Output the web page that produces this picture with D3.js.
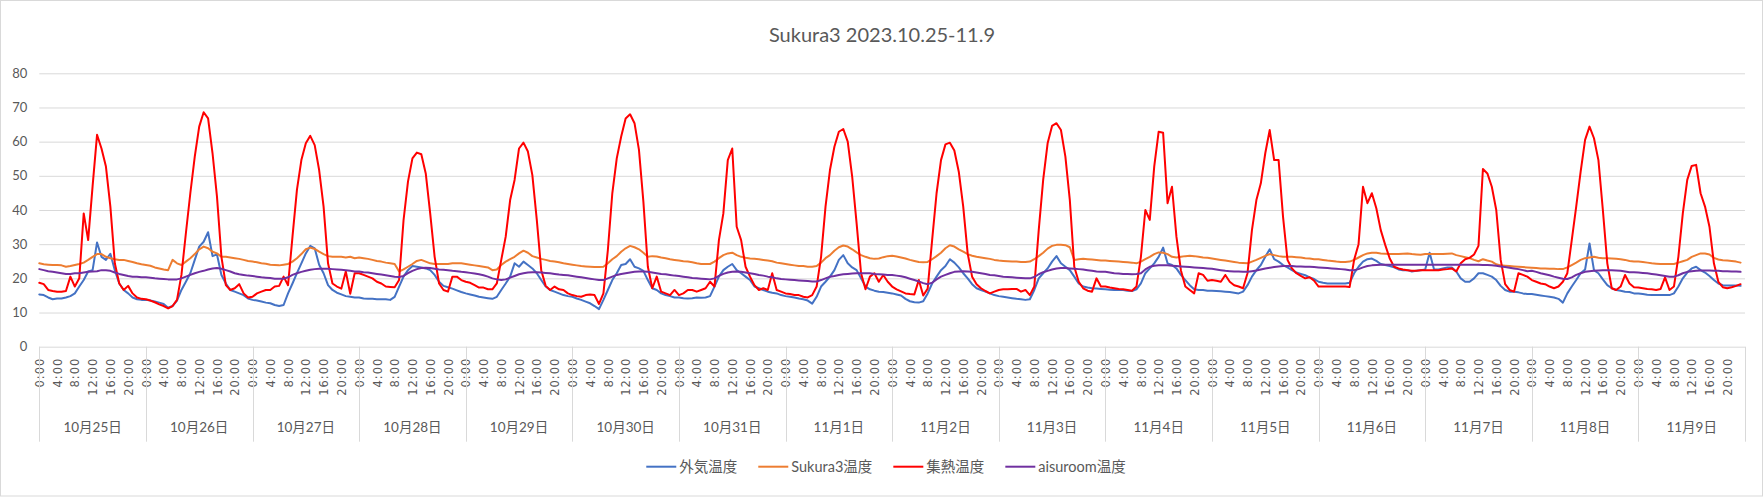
<!DOCTYPE html>
<html><head><meta charset="utf-8">
<script src="https://cdn.jsdelivr.net/npm/d3@7"></script>
<style>
html,body{margin:0;padding:0;background:#fff;}
svg{display:block;}
</style></head><body>
<svg id="chart" width="1764" height="498"></svg>
<script>
const chartTitle = "Sukura3 2023.10.25-11.9";
const dayLabels = ["10月25日","10月26日","10月27日","10月28日","10月29日","10月30日","10月31日","11月1日","11月2日","11月3日","11月4日","11月5日","11月6日","11月7日","11月8日","11月9日"];
const hourLabels = ["0:00","4:00","8:00","12:00","16:00","20:00"];
const yTicks = [0,10,20,30,40,50,60,70,80];
const seriesNames = ["外気温度","Sukura3温度","集熱温度","aisuroom温度"];

// hourly values, one row per day (0:00 .. 23:00)
const outdoor = [
15.3,15.1,14.4,13.9,14.1,14.1,14.4,14.8,15.6,17.6,19.5,22.0,22.4,30.5,26.3,25.4,27.2,22.4,18.5,16.6,15.6,14.4,13.9,13.7,
13.7,13.5,13.2,12.9,12.5,11.4,11.9,13.5,16.6,19.0,21.5,25.4,29.3,30.7,33.5,26.5,27.0,21.0,18.5,16.6,16.1,15.6,15.1,14.1,
13.7,13.5,13.2,12.9,12.7,12.2,11.9,12.2,15.6,18.5,21.5,24.4,27.3,29.5,28.8,24.0,21.5,18.0,16.6,15.8,15.3,14.8,14.6,14.4,
14.4,14.1,14.0,14.0,13.9,13.9,13.9,13.7,14.6,17.6,20.5,22.4,23.6,23.4,23.2,22.9,22.4,21.0,19.0,17.8,17.4,17.0,16.5,16.0,
15.6,15.3,15.0,14.6,14.4,14.2,14.0,14.6,16.6,18.5,20.5,24.4,23.4,24.9,23.9,22.9,21.5,19.5,17.6,16.6,16.1,15.6,15.1,14.8,
14.6,14.1,13.7,13.2,12.7,11.9,11.0,13.7,16.6,19.5,21.5,23.9,24.2,25.6,23.4,22.9,22.2,19.5,17.1,16.6,15.6,15.1,14.8,14.4,
14.4,14.2,14.1,14.2,14.4,14.3,14.4,14.8,17.6,20.5,22.4,23.4,24.2,22.4,21.5,20.5,19.5,17.6,17.1,16.6,16.1,15.8,15.6,15.1,
14.8,14.6,14.4,14.1,13.9,13.5,12.6,14.6,17.6,19.0,20.5,22.4,25.4,26.8,24.4,23.2,22.4,20.0,17.6,16.8,16.4,16.1,16.0,15.8,
15.6,15.3,15.0,14.0,13.3,13.0,12.9,13.3,15.6,18.5,20.5,22.4,23.6,25.6,24.6,23.2,21.5,20.0,18.3,17.1,16.6,16.1,15.6,15.1,
14.8,14.6,14.4,14.2,14.0,13.9,13.7,13.9,16.6,20.0,21.5,22.9,24.9,26.5,24.4,23.4,22.4,20.5,18.5,17.6,17.3,17.1,17.0,16.9,
16.8,16.7,16.6,16.6,16.6,16.4,16.3,16.8,18.5,21.5,22.9,24.4,26.3,29.0,24.4,23.9,22.9,21.0,19.5,18.0,16.8,16.6,16.6,16.4,
16.4,16.3,16.2,16.1,16.0,15.8,15.6,16.1,18.0,20.5,22.4,23.9,26.3,28.5,25.6,24.9,23.9,23.2,22.4,21.7,21.3,20.9,20.3,19.8,
19.0,18.7,18.5,18.5,18.5,18.5,18.5,18.7,21.5,23.4,24.9,25.6,25.8,25.1,24.2,23.9,23.6,23.2,22.6,22.4,22.4,22.0,22.2,22.4,
22.6,27.5,22.6,22.6,22.9,23.2,23.2,22.0,20.0,19.0,19.0,20.0,21.5,21.5,21.0,20.5,19.5,17.8,16.6,16.1,16.1,15.9,15.6,15.4,
15.4,15.2,15.0,14.8,14.6,14.4,14.0,12.9,15.6,17.6,19.5,21.5,22.6,30.2,22.4,21.5,19.7,18.0,17.1,16.6,16.4,16.1,16.0,15.6,
15.6,15.4,15.2,15.1,15.1,15.1,15.1,15.1,15.6,17.6,20.0,21.7,22.9,23.4,22.4,21.7,20.7,19.5,18.5,18.0,17.9,17.9,17.9,17.8
];
const sukura3 = [
24.4,24.1,24.0,23.9,23.9,23.8,23.4,23.6,23.9,24.2,24.6,25.4,26.3,27.1,27.1,26.3,25.9,25.6,25.4,25.4,25.1,24.8,24.4,24.1,
23.9,23.7,23.2,22.9,22.6,22.4,25.4,24.4,23.9,24.9,25.9,27.1,28.5,29.3,28.8,27.8,27.3,26.3,26.3,26.1,25.9,25.7,25.4,25.1,
24.9,24.7,24.4,24.3,24.0,23.9,23.8,24.0,24.2,24.9,25.9,27.1,28.5,29.0,28.6,27.8,27.1,26.5,26.3,26.3,26.3,26.1,26.3,25.9,
26.1,25.9,25.7,25.4,25.1,24.9,24.6,24.4,24.2,22.0,22.6,23.4,24.2,25.1,25.4,24.9,24.4,24.2,24.2,24.2,24.2,24.4,24.4,24.4,
24.2,24.0,23.8,23.6,23.4,23.2,22.4,22.6,23.9,24.9,25.6,26.3,27.3,28.1,27.5,26.5,26.1,25.7,25.4,25.1,24.9,24.7,24.4,24.2,
24.0,23.8,23.6,23.5,23.4,23.3,23.3,23.4,24.4,25.6,26.5,27.8,28.8,29.5,29.1,28.5,27.5,26.3,26.5,26.4,26.1,25.9,25.6,25.4,
25.2,25.0,24.9,24.7,24.4,24.2,24.2,24.2,24.9,25.9,26.8,27.3,27.5,26.8,26.3,26.0,25.8,25.7,25.6,25.4,25.2,25.0,24.6,24.4,
24.2,24.0,23.8,23.6,23.6,23.4,23.4,23.6,24.6,25.9,26.8,28.1,29.1,29.6,29.3,28.5,27.6,26.8,26.3,25.9,25.7,25.8,26.2,26.5,
26.6,26.4,26.1,25.8,25.4,25.1,24.8,24.7,24.8,25.6,26.5,27.5,28.8,29.7,29.3,28.5,27.8,27.1,26.6,26.3,26.1,25.9,25.7,25.4,
25.2,25.1,25.0,24.9,24.9,24.8,24.8,24.9,25.6,26.5,27.5,28.7,29.5,29.8,29.8,29.7,29.1,25.4,25.6,25.7,25.6,25.5,25.4,25.2,
25.2,25.1,25.0,24.9,24.8,24.7,24.6,24.4,24.9,25.6,26.3,27.1,27.6,27.5,27.1,26.3,26.1,26.3,26.5,26.6,26.5,26.3,26.1,26.0,
25.8,25.6,25.4,25.2,25.0,24.8,24.6,24.5,24.4,24.9,25.4,26.0,26.6,27.1,26.8,26.5,26.3,26.3,26.3,26.2,26.1,25.9,25.8,25.6,
25.6,25.4,25.2,25.1,24.9,24.8,24.8,24.9,25.4,26.1,26.8,27.3,27.5,27.5,27.3,27.2,27.1,27.1,27.1,27.2,27.3,27.1,27.0,26.9,
27.1,27.1,27.1,27.1,27.1,27.2,27.3,26.8,26.5,26.2,25.9,25.4,25.0,25.6,25.2,24.9,24.1,23.8,23.7,23.6,23.5,23.4,23.3,23.2,
23.1,23.0,22.9,22.9,22.8,22.8,22.7,22.7,23.2,23.9,24.6,25.4,25.9,26.1,26.3,26.0,25.9,25.9,25.8,25.7,25.6,25.4,25.1,24.9,
24.9,24.8,24.6,24.4,24.3,24.2,24.2,24.2,24.2,24.6,25.0,25.4,26.3,26.8,27.3,27.3,27.0,26.0,25.5,25.3,25.2,25.1,24.9,24.6
];
const collector = [
18.7,18.3,16.6,16.3,16.1,16.1,16.3,20.5,17.6,20.0,39.0,31.2,47.0,62.0,58.0,52.7,41.0,24.4,18.5,16.6,17.8,15.6,14.4,14.0,
13.9,13.5,13.0,12.4,11.9,11.2,11.9,13.7,21.0,33.2,44.9,55.6,64.4,68.6,66.8,56.6,43.9,26.3,18.0,16.6,17.1,18.3,15.6,14.4,
14.6,15.6,16.1,16.6,16.6,17.6,17.8,20.5,18.0,32.2,45.9,54.6,59.5,61.7,59.0,51.7,41.0,24.4,18.5,17.6,17.0,22.0,15.5,21.5,
21.5,21.0,20.5,20.0,19.0,18.5,17.6,17.5,17.4,19.5,37.0,48.3,55.1,56.8,56.3,50.7,39.0,26.3,18.5,16.6,16.1,20.5,20.5,19.5,
19.0,18.7,18.0,17.3,17.3,16.8,16.8,18.5,25.4,32.2,42.9,48.8,58.0,59.7,57.1,50.2,37.1,22.4,17.8,16.6,17.6,16.8,16.6,15.6,
15.1,14.8,14.6,15.1,15.3,15.1,12.5,15.6,28.3,44.9,55.1,61.5,66.8,68.0,65.4,57.6,42.4,23.4,17.1,20.5,16.1,15.6,15.1,16.6,
15.1,15.6,16.6,16.6,16.1,16.6,17.1,19.0,17.6,31.2,39.0,54.6,58.0,35.1,31.2,23.4,20.5,18.0,16.6,17.1,16.6,21.5,16.6,16.1,
15.6,15.4,15.1,15.1,14.6,14.4,15.1,17.6,26.3,41.0,51.7,58.5,62.9,63.7,60.0,49.8,36.1,21.5,16.8,20.5,21.5,19.0,21.0,19.0,
17.6,16.8,16.2,15.6,15.4,15.3,19.5,15.0,17.0,31.2,44.9,54.6,59.2,59.7,57.4,51.2,41.0,27.3,20.5,18.3,17.1,16.3,15.6,16.1,
16.6,16.8,16.8,16.9,16.9,16.1,16.6,15.1,17.6,34.1,48.8,59.5,64.6,65.4,63.4,55.6,42.9,23.4,19.0,17.1,16.4,16.1,20.0,17.6,
17.6,17.3,17.1,16.9,16.8,16.6,16.4,17.6,26.3,40.0,37.1,52.7,62.9,62.6,42.0,46.8,32.2,22.4,17.6,16.6,15.6,21.5,21.0,19.3,
19.5,19.3,19.0,21.0,19.0,18.0,17.6,17.1,21.5,34.1,42.9,47.8,56.6,63.4,54.6,54.6,38.0,25.4,22.9,21.5,20.7,20.0,20.3,19.3,
17.6,17.6,17.6,17.6,17.6,17.6,17.6,17.5,25.4,30.0,46.8,42.0,44.9,40.5,34.1,29.8,25.9,23.4,22.9,22.6,22.4,22.2,22.2,22.4,
22.4,22.4,22.4,22.4,22.6,22.7,22.9,22.0,24.4,25.6,26.0,27.0,29.5,52.0,50.7,46.8,40.0,25.4,18.3,16.6,16.1,21.5,21.0,20.5,
19.5,19.0,18.5,18.3,17.6,17.1,17.6,19.0,21.5,31.2,41.0,51.2,60.5,64.4,61.0,54.6,40.0,24.4,17.1,16.6,17.6,21.0,18.5,17.4,
17.3,17.1,16.9,16.8,16.6,16.9,20.3,16.6,17.6,26.3,39.0,48.8,52.9,53.2,44.9,41.0,35.1,24.4,19.0,17.4,17.1,17.4,17.8,18.3
];
const aisuroom = [
22.7,22.4,22.1,21.9,21.7,21.5,21.3,21.3,21.5,21.5,21.7,21.9,22.0,22.1,22.4,22.4,22.2,21.7,21.3,21.0,20.7,20.5,20.5,20.3,
20.3,20.2,20.0,19.9,19.8,19.7,19.7,19.7,20.0,20.5,21.0,21.5,21.9,22.2,22.6,22.9,23.0,22.8,22.4,22.0,21.5,21.2,21.0,20.8,
20.7,20.5,20.3,20.2,20.1,19.9,19.9,19.9,20.3,21.0,21.5,21.9,22.2,22.5,22.7,22.8,22.8,22.8,22.7,22.6,22.5,22.4,22.2,22.0,
22.0,21.8,21.7,21.5,21.3,21.1,20.9,20.7,20.5,20.4,20.7,21.5,22.2,22.7,23.0,23.1,23.0,22.8,22.6,22.5,22.4,22.2,22.1,21.9,
21.8,21.6,21.4,21.2,20.9,20.5,20.0,19.7,19.5,19.7,20.2,20.7,21.2,21.5,21.7,21.8,21.8,21.7,21.6,21.5,21.3,21.1,21.0,20.9,
20.7,20.5,20.3,20.1,19.9,19.7,19.5,19.5,20.0,20.5,21.0,21.3,21.5,21.7,21.9,22.0,22.0,21.9,21.7,21.5,21.3,21.2,21.0,20.8,
20.7,20.5,20.3,20.1,20.0,19.9,19.8,19.7,20.0,20.7,21.3,21.7,21.9,22.0,21.9,21.7,21.5,21.3,21.0,20.8,20.5,20.3,20.0,19.8,
19.7,19.6,19.5,19.4,19.3,19.2,19.1,19.1,19.5,20.0,20.5,20.7,21.0,21.2,21.3,21.4,21.5,21.5,21.5,21.5,21.3,21.2,21.1,21.0,
21.0,20.8,20.6,20.3,19.9,19.5,19.1,18.6,18.3,18.7,19.7,20.5,21.0,21.5,21.9,22.0,22.1,22.0,21.9,21.7,21.5,21.3,21.0,20.9,
20.7,20.5,20.4,20.3,20.2,20.1,20.0,20.0,20.4,21.2,21.8,22.2,22.6,22.9,23.0,23.0,22.9,22.8,22.7,22.6,22.4,22.2,22.0,21.9,
21.9,21.7,21.5,21.4,21.3,21.3,21.2,21.3,21.5,22.6,23.4,23.7,23.8,23.8,23.8,23.7,23.6,23.5,23.4,23.3,23.2,23.1,23.0,22.9,
22.8,22.6,22.4,22.2,22.1,22.0,22.0,21.9,21.9,22.1,22.3,22.6,22.9,23.1,23.3,23.5,23.6,23.6,23.6,23.5,23.5,23.4,23.4,23.3,
23.2,23.1,23.0,22.9,22.8,22.7,22.6,22.4,22.4,22.7,23.2,23.6,23.8,23.9,24.0,24.0,24.0,24.0,24.0,24.0,24.0,24.0,24.0,24.0,
24.0,24.0,24.0,24.0,24.0,24.0,24.0,24.0,24.0,24.0,24.0,24.0,24.0,23.9,23.9,23.8,23.7,23.5,23.3,23.1,22.9,22.7,22.4,22.1,
22.2,21.9,21.5,21.2,20.9,20.5,20.2,19.9,19.8,20.3,21.0,21.5,21.9,22.1,22.2,22.3,22.4,22.4,22.4,22.3,22.2,22.0,21.8,21.8,
21.7,21.6,21.5,21.3,21.1,20.9,20.7,20.5,20.5,20.9,21.5,21.9,22.1,22.2,22.3,22.3,22.3,22.2,22.2,22.1,22.1,22.0,22.0,21.9
];
const seriesColors = ["#4472C4","#ED7D31","#FF0000","#7030A0"];

const W = 1764, H = 498;
const plotLeft = 39.3, plotRight = 1745, plotTop = 73.3, plotBottom = 346.7;
const hoursTotal = dayLabels.length * 24;
const gridColor = "#d9d9d9", textColor = "#595959";
const latinFont = "Lato, 'Noto Sans CJK JP', sans-serif";

const svg = d3.select("#chart");
svg.append("rect").attr("x",0.5).attr("y",0.5).attr("width",W-2).attr("height",H-2.5)
  .attr("fill","#fff").attr("stroke",gridColor).attr("stroke-width",1);

const x = d3.scaleLinear().domain([0, hoursTotal]).range([plotLeft, plotRight]);
const y = d3.scaleLinear().domain([0, 80]).range([plotBottom, plotTop]);

// title
svg.append("text").attr("x", W/2).attr("y", 41.5).attr("text-anchor","middle")
  .attr("font-family", latinFont).attr("font-size", 20).attr("fill", textColor).text(chartTitle);

// y axis + gridlines
const yAxis = svg.append("g").attr("transform", `translate(${plotLeft},0)`)
  .call(d3.axisLeft(y).tickValues(yTicks).tickSize(-(plotRight-plotLeft)).tickPadding(12).tickFormat(d3.format("d")));
yAxis.select(".domain").remove();
yAxis.selectAll(".tick line").attr("stroke", gridColor).attr("stroke-width",1);
yAxis.selectAll(".tick text").attr("font-family", latinFont).attr("font-size", 13).attr("fill", textColor);

// hour tick labels
const hourTicks = [];
dayLabels.forEach((d, i) => hourLabels.forEach((h, k) => hourTicks.push(i*24 + k*4)));
const xAxis = svg.append("g").attr("transform", `translate(0,${plotBottom})`)
  .call(d3.axisBottom(x).tickValues(hourTicks).tickSize(0).tickFormat(v => hourLabels[(v % 24) / 4]));
xAxis.select(".domain").remove();
xAxis.selectAll(".tick text")
  .attr("transform","rotate(-90)").attr("x",-11).attr("y",0).attr("dy","0.36em")
  .attr("text-anchor","end").attr("font-family","'DejaVu Sans', sans-serif")
  .attr("font-size",11.5).attr("letter-spacing","1px").attr("fill",textColor);

// day separators
svg.append("g").selectAll("line").data(d3.range(dayLabels.length + 1)).join("line")
  .attr("x1", d => Math.round(x(d*24)) + 0.5).attr("x2", d => Math.round(x(d*24)) + 0.5)
  .attr("y1", plotBottom).attr("y2", 441.7).attr("stroke", gridColor).attr("stroke-width",1);

// day labels
svg.append("g").selectAll("text").data(dayLabels).join("text")
  .attr("x", (d,i) => x(i*24 + 12)).attr("y", 427).attr("text-anchor","middle")
  .attr("dominant-baseline","central").attr("font-family", latinFont)
  .attr("font-size", 13.5).attr("fill", textColor).text(d => d);

// series lines
const seriesData = [outdoor, sukura3, collector, aisuroom];
const line = d3.line().x((d,i) => x(i)).y(d => y(d));
const lines = svg.append("g");
seriesData.forEach((s, k) => {
  lines.append("path").datum(s).attr("d", line).attr("fill","none")
    .attr("stroke", seriesColors[k]).attr("stroke-width", 2)
    .attr("stroke-linejoin","round").attr("stroke-linecap","round");
});

// legend
const legend = svg.append("g");
const items = seriesNames.map((name, k) => {
  const g = legend.append("g");
  g.append("line").attr("x1",0).attr("x2",30).attr("y1",0).attr("y2",0)
    .attr("stroke", seriesColors[k]).attr("stroke-width",2);
  const t = g.append("text").attr("x",33).attr("y",0).attr("dominant-baseline","central")
    .attr("font-family", latinFont).attr("font-size",14.5).attr("fill",textColor).text(name);
  return {g, w: 33 + t.node().getComputedTextLength()};
});
const gap = 21;
const total = d3.sum(items, d => d.w) + gap*(items.length-1);
let cx = 886 - total/2;
items.forEach(it => { it.g.attr("transform", `translate(${cx},466.7)`); cx += it.w + gap; });
</script>
</body></html>
